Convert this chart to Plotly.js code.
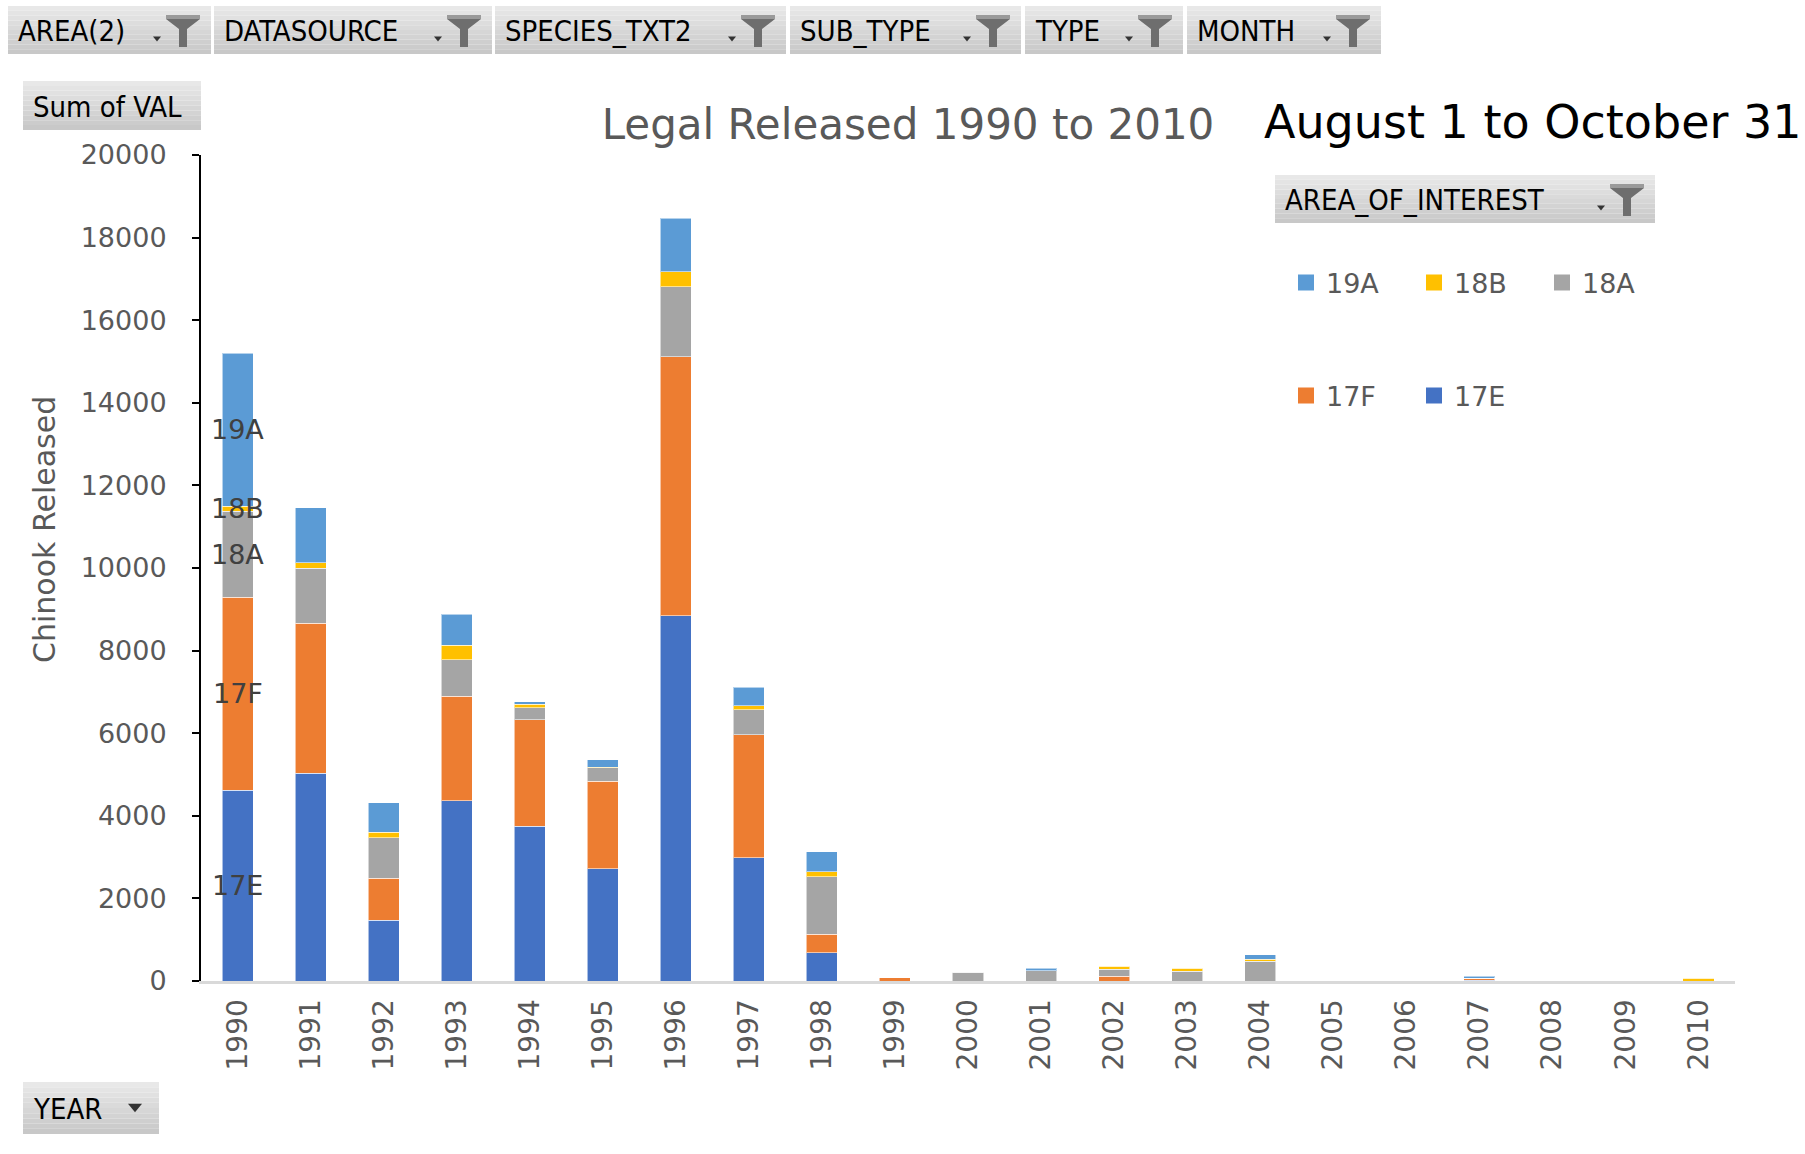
<!DOCTYPE html>
<html>
<head>
<meta charset="utf-8">
<script src="https://cdn.plot.ly/plotly-3.0.1.min.js"></script>
<style>
  html, body { margin: 0; padding: 0; background: #ffffff; }
  #chart { width: 1805px; height: 1154px; }
</style>
</head>
<body>
<div id="chart"></div>
<script>
// ---------------- data ----------------
const years = ['1990','1991','1992','1993','1994','1995','1996','1997','1998','1999','2000',
               '2001','2002','2003','2004','2005','2006','2007','2008','2009','2010'];
const v17E = [4620, 5030, 1470, 4360, 3750, 2720, 8850, 2990,  680,  0,   0,   0,   0,   0,   0, 0, 0, 20, 0, 0,  0];
const v17F = [4670, 3630, 1020, 2530, 2570, 2120, 6270, 2970,  450, 80,   0,   0, 110,   0,   0, 0, 0, 50, 0, 0,  0];
const v18A = [2090, 1340,  980,  890,  300,  320, 1690,  610, 1400,  0, 210, 250, 180, 240, 480, 0, 0,  0, 0, 0,  0];
const v18B = [ 120,  130,  130,  350,   80,   20,  360,  100,  110,  0,   0,   0,  70,  70,  50, 0, 0,  0, 0, 0, 70];
const v19A = [3700, 1330,  720,  750,   60,  180, 1300,  440,  490,  0,   0,  60,   0,   0, 110, 0, 0, 40, 0, 0,  0];

const seriesNames  = ['17E', '17F', '18A', '18B', '19A'];
const seriesValues = [v17E, v17F, v18A, v18B, v19A];
const seriesColors = ['#4472c4', '#ed7d31', '#a5a5a5', '#ffc000', '#5b9bd5'];

const titleText   = 'Legal Released 1990 to 2010';
const subtitleTxt = 'August 1 to October 31';
const yTitle      = 'Chinook Released';
const topButtons  = ['AREA(2)', 'DATASOURCE', 'SPECIES_TXT2', 'SUB_TYPE', 'TYPE', 'MONTH'];

// ---------------- layout helpers ----------------
const W = 1805, H = 1154;
const PL = 201, PR = 1735, PT = 155, PB = 981;
const X = px => (px - PL) / (PR - PL);
const Y = py => (PB - py) / (PB - PT);

const FONT = 'DejaVu Sans, Verdana, sans-serif';
const BTNFONT = 'DejaVu Sans Condensed, Liberation Sans Narrow, Arial Narrow, sans-serif';
const GRAY = '#595959';

const shapes = [];
const annotations = [];

function button(x0, x1, y0, y1, label, opts) {
  const bands = 10;
  const c0 = [232, 232, 232], c1 = [200, 200, 200];
  for (let i = 0; i < bands; i++) {
    const t = i / (bands - 1);
    const c = c0.map((v, k) => Math.round(v + (c1[k] - v) * t));
    shapes.push({
      type: 'rect', xref: 'paper', yref: 'paper', layer: 'above',
      x0: X(x0), x1: X(x1),
      y0: Y(y0 + (y1 - y0) * i / bands), y1: Y(y0 + (y1 - y0) * (i + 1) / bands),
      fillcolor: `rgb(${c[0]},${c[1]},${c[2]})`, line: { width: 0 }
    });
  }
  annotations.push({
    text: label, xref: 'paper', yref: 'paper', x: X(x0 + 8), y: Y((y0 + y1) / 2 + 1),
    xanchor: 'left', yanchor: 'middle', showarrow: false,
    font: { family: BTNFONT, size: 29, color: '#000000' }
  });
  const cy = (y0 + y1) / 2;
  if (opts.funnel) {
    const fx = x1 - 28;
    shapes.push({
      type: 'path', xref: 'paper', yref: 'paper', xsizemode: 'pixel', ysizemode: 'pixel',
      xanchor: X(fx), yanchor: Y(cy), layer: 'above',
      path: 'M-17,15 L17,15 L17,11 L4,1 L4,-17 L-4,-17 L-4,1 L-17,11 Z',
      fillcolor: '#6e6e6e', line: { width: 0 }
    });
    shapes.push({
      type: 'path', xref: 'paper', yref: 'paper', xsizemode: 'pixel', ysizemode: 'pixel',
      xanchor: X(fx), yanchor: Y(cy), layer: 'above',
      path: 'M-17,15 L17,15 L17,11 L-17,11 Z',
      fillcolor: '#9a9a9a', line: { width: 0 }
    });
  }
  if (opts.arrow) {
    const ax = opts.funnel ? x1 - 54 : x1 - 24;
    const ay = opts.funnel ? cy + 9 : cy;
    const s = opts.funnel ? 4 : 7;
    shapes.push({
      type: 'path', xref: 'paper', yref: 'paper', xsizemode: 'pixel', ysizemode: 'pixel',
      xanchor: X(ax), yanchor: Y(ay), layer: 'above',
      path: `M-${s},${s * 0.6} L${s},${s * 0.6} L0,-${s * 0.6} Z`,
      fillcolor: '#333333', line: { width: 0 }
    });
  }
}

const topX = [[8, 211], [214, 492], [495, 786], [790, 1021], [1025, 1183], [1187, 1381]];
topButtons.forEach((b, i) => button(topX[i][0], topX[i][1], 6, 54, b, { funnel: true, arrow: true }));
button(23, 201, 81, 130, 'Sum of VAL', { funnel: false, arrow: false });
button(23, 159, 1082, 1134, 'YEAR', { funnel: false, arrow: true });
button(1275, 1655, 175, 223, 'AREA_OF_INTEREST', { funnel: true, arrow: true });

annotations.push({
  text: subtitleTxt, xref: 'paper', yref: 'paper', x: X(1262), y: Y(122),
  xanchor: 'left', yanchor: 'middle', showarrow: false,
  font: { family: FONT, size: 46, color: '#000000' }
});

// y axis title (placed like the reference, slightly above the axis middle)
annotations.push({
  text: yTitle, xref: 'paper', yref: 'paper', x: X(44), y: Y(530),
  xanchor: 'center', yanchor: 'middle', textangle: -90, showarrow: false,
  font: { family: FONT, size: 30, color: GRAY }
});

// series labels on the first year's stacked bar, at each segment's middle
let cum = 0;
seriesNames.forEach((name, k) => {
  const v = seriesValues[k][0];
  annotations.push({
    text: name, xref: 'x', yref: 'y', x: 0, y: cum + v / 2,   // x: category index of years[0]
    xanchor: 'center', yanchor: 'middle', showarrow: false,
    font: { family: FONT, size: 27, color: '#404040' }
  });
  cum += v;
});

// ---------------- traces ----------------
const traces = seriesNames.map((name, k) => ({
  type: 'bar', name: name, x: years, y: seriesValues[k],
  marker: { color: seriesColors[k], line: { color: 'rgba(255,255,255,0.55)', width: 1 } },
  showlegend: false, hoverinfo: 'x+y+name'
}));

// legend entries (square markers), order as in the reference
const legendOrder = [['19A', 'legend'], ['18B', 'legend'], ['18A', 'legend'], ['17F', 'legend2'], ['17E', 'legend2']];
legendOrder.forEach(([name, lg]) => {
  const k = seriesNames.indexOf(name);
  traces.push({
    type: 'scatter', mode: 'markers', name: name, x: [null], y: [null],
    marker: { symbol: 'square', size: 16, color: seriesColors[k] },
    legend: lg, showlegend: true, hoverinfo: 'skip'
  });
});

const legendBase = {
  orientation: 'h', xanchor: 'left', yanchor: 'middle', traceorder: 'normal',
  entrywidth: 83, entrywidthmode: 'pixels', bgcolor: 'rgba(0,0,0,0)',
  font: { family: FONT, size: 27, color: GRAY }, itemclick: false, itemdoubleclick: false
};

const layout = {
  width: W, height: H,
  margin: { l: PL, r: W - PR, t: PT, b: H - PB, pad: 0 },
  paper_bgcolor: '#ffffff', plot_bgcolor: '#ffffff',
  barmode: 'stack', bargap: 0.575,
  font: { family: FONT, color: GRAY },
  title: {
    text: titleText, x: 908 / W, xanchor: 'center', xref: 'container',
    y: 1 - 124 / H, yanchor: 'middle', yref: 'container',
    font: { family: FONT, size: 42, color: GRAY }
  },
  xaxis: {
    type: 'category', categoryorder: 'array', categoryarray: years,
    range: [-0.5, years.length - 0.5], fixedrange: true,
    tickangle: -90, ticks: '', ticklabelstandoff: 4,
    tickfont: { family: FONT, size: 28, color: GRAY },
    showline: true, linecolor: '#d9d9d9', linewidth: 3, showgrid: false, zeroline: false
  },
  yaxis: {
    range: [0, 20000], dtick: 2000, tick0: 0, tickformat: 'd', fixedrange: true,
    ticks: 'outside', ticklen: 7, tickwidth: 2, tickcolor: '#000000', ticklabelstandoff: 20,
    tickfont: { family: FONT, size: 27, color: GRAY },
    showline: true, linecolor: '#000000', linewidth: 2, showgrid: false, zeroline: false
  },
  legend:  Object.assign({}, legendBase, { x: X(1286), y: Y(283) }),
  legend2: Object.assign({}, legendBase, { x: X(1286), y: Y(396) }),
  shapes: shapes,
  annotations: annotations
};

Plotly.newPlot('chart', traces, layout, { displayModeBar: false, staticPlot: true });
</script>
</body>
</html>
